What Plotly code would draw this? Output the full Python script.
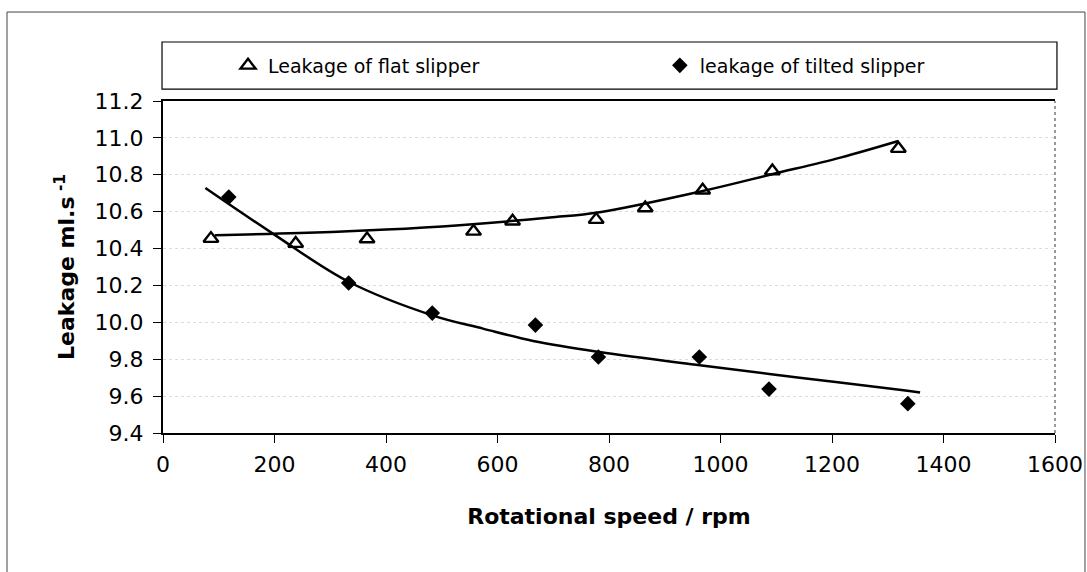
import plotly.graph_objects as go

# ---- data ----
flat_rpm = [86, 238, 366, 557, 627, 777, 865, 968, 1093, 1319]
flat_leak = [10.454, 10.427, 10.452, 10.493, 10.548, 10.557, 10.620, 10.716, 10.820, 10.942]

tilted_rpm = [118, 333, 483, 668, 781, 962, 1087, 1336]
tilted_leak = [10.679, 10.213, 10.050, 9.985, 9.812, 9.812, 9.638, 9.559]

# trendlines as drawn in the picture
flat_fit_rpm = [93, 245, 400, 532, 694, 783, 968, 1094, 1215, 1319]
flat_fit_leak = [10.472, 10.484, 10.503, 10.527, 10.568, 10.597, 10.712, 10.804, 10.893, 10.983]

tilted_fit_rpm = [76, 197, 333, 483, 574, 664, 783, 963, 1142, 1321, 1358]
tilted_fit_leak = [10.728, 10.481, 10.220, 10.038, 9.966, 9.899, 9.839, 9.767, 9.700, 9.635, 9.619]

x_ticks = [0, 200, 400, 600, 800, 1000, 1200, 1400, 1600]
y_ticks = [9.4, 9.6, 9.8, 10.0, 10.2, 10.4, 10.6, 10.8, 11.0, 11.2]

FONT = "DejaVu Sans, Arial, sans-serif"

fig = go.Figure()

fig.add_trace(go.Scatter(
    x=flat_fit_rpm, y=flat_fit_leak, mode="lines", line=dict(color="black", width=2.5, shape="spline"),
    showlegend=False, hoverinfo="skip"))
fig.add_trace(go.Scatter(
    x=tilted_fit_rpm, y=tilted_fit_leak, mode="lines", line=dict(color="black", width=2.5, shape="spline"),
    showlegend=False, hoverinfo="skip"))

fig.add_trace(go.Scatter(
    x=flat_rpm, y=flat_leak, mode="markers", name="Leakage of flat slipper", legend="legend",
    marker=dict(symbol="triangle-up-open", size=13, color="black", line=dict(width=2.4, color="black"))))
fig.add_trace(go.Scatter(
    x=tilted_rpm, y=tilted_leak, mode="markers", name="leakage of tilted slipper", legend="legend2",
    marker=dict(symbol="diamond", size=12, color="black", line=dict(width=0))))

legend_common = dict(orientation="h", xanchor="left", y=1.107, yanchor="middle",
                     bgcolor="rgba(0,0,0,0)", borderwidth=0,
                     font=dict(family=FONT, size=19, color="black"))

fig.update_layout(
    width=1087, height=572,
    margin=dict(l=163, r=32, t=101, b=139),
    paper_bgcolor="white", plot_bgcolor="white",
    font=dict(family=FONT, size=22, color="black"),
    legend=dict(x=0.0729, **legend_common),
    legend2=dict(x=0.557, **legend_common),
    shapes=[
        # outer chart frame
        dict(type="rect", xref="paper", yref="paper", x0=-0.1749, x1=1.0336, y0=-0.46, y1=1.268,
             line=dict(color="#444444", width=1)),
        # legend box
        dict(type="rect", xref="paper", yref="paper", x0=-0.0011, x1=1.0022, y0=1.036, y1=1.1777,
             line=dict(color="black", width=1.2)),
        # right border of plot area (dotted)
        dict(type="line", xref="paper", yref="paper", x0=1, x1=1, y0=0, y1=1,
             line=dict(color="#555555", width=1.2, dash="dot")),
    ],
)

fig.update_xaxes(
    range=[0, 1600], tickvals=x_ticks, ticktext=[str(v) for v in x_ticks],
    showline=True, linecolor="black", linewidth=2, mirror=True,
    ticks="outside", ticklen=8, tickwidth=1.2, tickcolor="black",
    showgrid=False, zeroline=False, ticklabelstandoff=3, automargin=False,
    title=dict(text="<b>Rotational speed / rpm</b>", font=dict(family=FONT, size=22), standoff=32),
)
fig.update_yaxes(
    range=[9.4, 11.2], tickvals=y_ticks, ticktext=[f"{v:.1f}" for v in y_ticks],
    showline=True, linecolor="black", linewidth=2,
    ticks="outside", ticklen=8, tickwidth=1.2, tickcolor="black",
    showgrid=True, gridcolor="#dddddd", griddash="dot", gridwidth=1,
    zeroline=False, ticklabelstandoff=5, automargin=False,
    title=dict(text="<b>Leakage ml.s<sup> -1</sup></b>", font=dict(family=FONT, size=22), standoff=14),
)

fig.write_html(
    "out.html",
    config={"displayModeBar": False},
    post_script="document.body.style.margin='0px';document.body.style.overflow='hidden';",
)
